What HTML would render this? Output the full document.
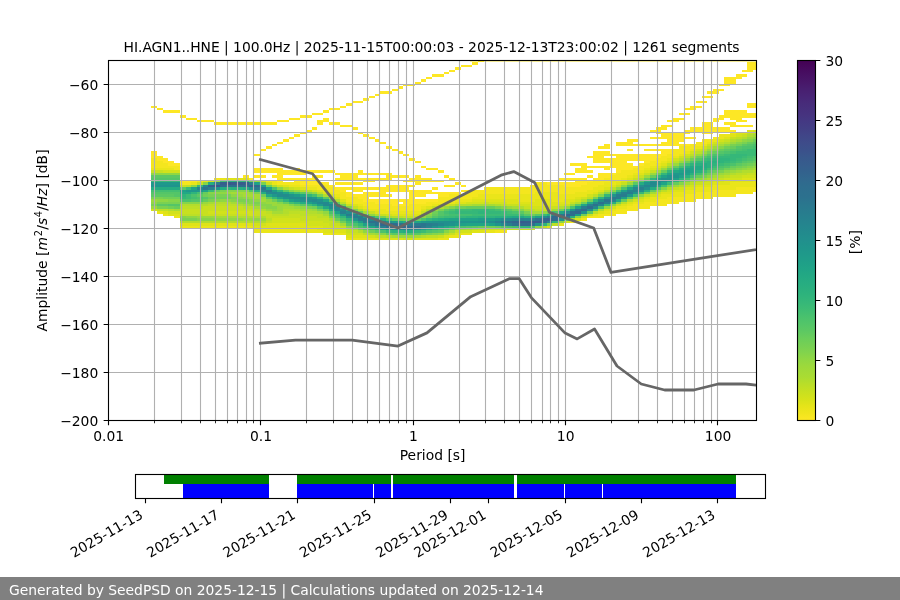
<!DOCTYPE html>
<html lang="en"><head><meta charset="utf-8"><title>SeedPSD PPSD HI.AGN1..HNE</title>
<style>html,body{margin:0;padding:0;background:#fff;overflow:hidden}svg{display:block}</style></head>
<body>
<svg width="900" height="600" viewBox="0 0 900 600">
<defs><clipPath id="ca"><rect x="108" y="60" width="648" height="360"/></clipPath>
<linearGradient id="cb" x1="0" y1="0" x2="0" y2="1"><stop offset="0" stop-color="#440154"/><stop offset="0.02" stop-color="#46085c"/><stop offset="0.04" stop-color="#471063"/><stop offset="0.06" stop-color="#481769"/><stop offset="0.08" stop-color="#481f70"/><stop offset="0.1" stop-color="#482576"/><stop offset="0.12" stop-color="#472c7a"/><stop offset="0.15" stop-color="#46337f"/><stop offset="0.17" stop-color="#443983"/><stop offset="0.19" stop-color="#423f85"/><stop offset="0.21" stop-color="#404688"/><stop offset="0.23" stop-color="#3e4c8a"/><stop offset="0.25" stop-color="#3b518b"/><stop offset="0.27" stop-color="#38588c"/><stop offset="0.29" stop-color="#365d8d"/><stop offset="0.31" stop-color="#33628d"/><stop offset="0.33" stop-color="#31688e"/><stop offset="0.35" stop-color="#2e6d8e"/><stop offset="0.38" stop-color="#2c718e"/><stop offset="0.4" stop-color="#2a778e"/><stop offset="0.42" stop-color="#287c8e"/><stop offset="0.44" stop-color="#26818e"/><stop offset="0.46" stop-color="#24868e"/><stop offset="0.48" stop-color="#228b8d"/><stop offset="0.5" stop-color="#21908d"/><stop offset="0.52" stop-color="#1f958b"/><stop offset="0.54" stop-color="#1f9a8a"/><stop offset="0.56" stop-color="#1f9f88"/><stop offset="0.58" stop-color="#20a486"/><stop offset="0.6" stop-color="#23a983"/><stop offset="0.62" stop-color="#27ad81"/><stop offset="0.65" stop-color="#2eb37c"/><stop offset="0.67" stop-color="#35b779"/><stop offset="0.69" stop-color="#3dbc74"/><stop offset="0.71" stop-color="#48c16e"/><stop offset="0.73" stop-color="#52c569"/><stop offset="0.75" stop-color="#5cc863"/><stop offset="0.77" stop-color="#69cd5b"/><stop offset="0.79" stop-color="#75d054"/><stop offset="0.81" stop-color="#81d34d"/><stop offset="0.83" stop-color="#90d743"/><stop offset="0.85" stop-color="#9dd93b"/><stop offset="0.88" stop-color="#aadc32"/><stop offset="0.9" stop-color="#bade28"/><stop offset="0.92" stop-color="#c8e020"/><stop offset="0.94" stop-color="#d5e21a"/><stop offset="0.96" stop-color="#e5e419"/><stop offset="0.98" stop-color="#f1e51d"/><stop offset="1" stop-color="#fde725"/></linearGradient></defs>
<rect width="900" height="600" fill="#fff"/>
<g clip-path="url(#ca)"><g transform="translate(151.1,60.0) scale(5.7335,2.4)" shape-rendering="crispEdges">
<path fill="#fde725" d="M0 19h1v1h-1zM0 38h1v3h-1zM1 20h1v1h-1zM1 40h1v2h-1zM2 21h1v1h-1zM2 41h1v2h-1zM3 21h1v1h-1zM3 42h1v2h-1zM4 21h1v1h-1zM4 43h1v1h-1zM5 23h1v1h-1zM5 50h1v1h-1zM6 24h1v1h-1zM6 50h1v1h-1zM7 24h1v1h-1zM7 50h1v1h-1zM8 25h1v1h-1zM9 25h1v1h-1zM10 25h1v1h-1zM11 26h1v1h-1zM12 26h1v1h-1zM13 26h1v1h-1zM14 26h1v1h-1zM15 26h1v1h-1zM16 26h1v1h-1zM16 48h1v1h-1zM17 26h1v1h-1zM17 49h1v1h-1zM18 26h1v1h-1zM18 39h1v1h-1zM18 45h1v2h-1zM18 48h1v1h-1zM19 26h1v1h-1zM19 37h1v1h-1zM19 45h1v2h-1zM19 48h1v1h-1zM20 26h1v1h-1zM20 36h1v1h-1zM20 45h1v2h-1zM21 26h1v1h-1zM21 35h1v1h-1zM21 45h1v2h-1zM21 48h1v1h-1zM22 25h1v1h-1zM22 34h1v1h-1zM22 45h1v6h-1zM23 25h1v1h-1zM23 33h1v1h-1zM23 46h1v2h-1zM23 49h1v1h-1zM24 24h1v1h-1zM24 32h1v1h-1zM24 46h1v2h-1zM24 49h1v1h-1zM25 24h1v1h-1zM25 31h1v1h-1zM25 45h1v3h-1zM25 49h1v2h-1zM26 23h1v1h-1zM26 30h1v1h-1zM26 46h1v2h-1zM26 49h1v3h-1zM27 23h1v1h-1zM27 29h1v1h-1zM27 46h1v1h-1zM27 49h1v3h-1zM28 22h1v1h-1zM28 28h1v1h-1zM28 46h1v1h-1zM28 48h1v4h-1zM29 22h1v1h-1zM29 25h1v2h-1zM29 46h1v1h-1zM29 48h1v1h-1zM29 51h1v1h-1zM30 21h1v1h-1zM30 24h1v2h-1zM30 46h1v1h-1zM30 51h1v1h-1zM31 20h1v1h-1zM31 26h1v1h-1zM31 46h1v1h-1zM31 52h1v1h-1zM32 20h1v1h-1zM32 26h1v1h-1zM32 47h1v1h-1zM32 49h1v1h-1zM32 51h1v1h-1zM32 53h1v1h-1zM33 19h1v1h-1zM33 27h1v1h-1zM33 47h1v3h-1zM33 51h1v1h-1zM33 53h1v2h-1zM34 18h1v1h-1zM34 27h1v1h-1zM34 47h1v3h-1zM34 51h1v1h-1zM34 53h1v1h-1zM34 55h1v2h-1zM35 17h1v1h-1zM35 28h1v1h-1zM35 47h1v3h-1zM35 51h1v1h-1zM35 53h1v2h-1zM35 56h1v1h-1zM36 17h1v1h-1zM36 30h1v1h-1zM36 46h1v2h-1zM36 49h1v1h-1zM36 51h1v1h-1zM36 53h1v2h-1zM36 56h1v2h-1zM37 16h1v1h-1zM37 31h1v1h-1zM37 47h1v1h-1zM37 49h1v2h-1zM37 53h1v1h-1zM37 55h1v4h-1zM38 15h1v1h-1zM38 32h1v1h-1zM38 47h1v1h-1zM38 49h1v2h-1zM38 53h1v1h-1zM38 55h1v2h-1zM38 58h1v1h-1zM39 14h1v1h-1zM39 33h1v1h-1zM39 47h1v1h-1zM39 49h1v1h-1zM39 53h1v1h-1zM39 55h1v2h-1zM39 58h1v2h-1zM40 13h1v1h-1zM40 34h1v1h-1zM40 47h1v1h-1zM40 49h1v1h-1zM40 53h1v4h-1zM40 58h1v2h-1zM41 13h1v1h-1zM41 36h1v1h-1zM41 47h1v3h-1zM41 52h1v3h-1zM41 56h1v1h-1zM41 58h1v2h-1zM42 12h1v1h-1zM42 37h1v1h-1zM42 48h1v1h-1zM42 52h1v3h-1zM42 58h1v3h-1zM43 11h1v1h-1zM43 38h1v1h-1zM43 48h1v1h-1zM43 52h1v3h-1zM43 58h1v1h-1zM43 60h1v1h-1zM44 10h1v1h-1zM44 39h1v1h-1zM44 48h1v1h-1zM44 50h1v1h-1zM44 52h1v3h-1zM44 58h1v3h-1zM45 10h1v1h-1zM45 41h1v1h-1zM45 49h1v2h-1zM45 52h1v1h-1zM45 54h1v6h-1zM46 9h1v1h-1zM46 42h1v1h-1zM46 48h1v4h-1zM46 54h1v3h-1zM46 58h1v2h-1zM47 8h1v1h-1zM47 44h1v1h-1zM47 49h1v2h-1zM47 54h1v3h-1zM47 58h1v2h-1zM48 7h1v1h-1zM48 45h1v1h-1zM48 49h1v2h-1zM48 54h1v2h-1zM48 58h1v1h-1zM49 6h1v1h-1zM49 45h1v1h-1zM49 50h1v1h-1zM49 53h1v1h-1zM49 55h1v1h-1zM49 58h1v1h-1zM50 6h1v1h-1zM50 46h1v1h-1zM50 50h1v1h-1zM50 55h1v2h-1zM51 5h1v1h-1zM51 48h1v1h-1zM51 52h1v1h-1zM51 55h1v2h-1zM52 4h1v1h-1zM52 49h1v1h-1zM52 52h1v1h-1zM52 55h1v1h-1zM53 3h1v1h-1zM53 51h1v1h-1zM53 55h1v1h-1zM54 2h1v1h-1zM54 52h1v1h-1zM54 54h1v1h-1zM55 2h1v1h-1zM55 54h1v1h-1zM56 1h1v1h-1zM57 0h1v1h-1zM69 51h1v1h-1zM70 51h1v1h-1zM71 49h1v1h-1zM71 51h1v1h-1zM72 47h1v1h-1zM72 49h1v1h-1zM72 51h1v2h-1zM73 43h1v1h-1zM73 47h1v1h-1zM73 49h1v1h-1zM73 51h1v2h-1zM74 43h1v1h-1zM74 45h1v2h-1zM74 49h1v4h-1zM75 43h1v4h-1zM75 49h1v3h-1zM76 40h1v1h-1zM76 44h1v1h-1zM76 46h1v1h-1zM76 48h1v1h-1zM76 50h1v1h-1zM77 38h1v5h-1zM77 44h1v1h-1zM77 49h1v1h-1zM78 36h1v1h-1zM78 38h1v5h-1zM78 44h1v1h-1zM78 47h1v3h-1zM79 35h1v2h-1zM79 38h1v2h-1zM79 41h1v2h-1zM79 44h1v2h-1zM79 47h1v2h-1zM80 39h1v1h-1zM80 41h1v4h-1zM80 47h1v1h-1zM81 34h1v2h-1zM81 39h1v8h-1zM82 34h1v2h-1zM82 39h1v7h-1zM83 33h1v3h-1zM83 37h1v1h-1zM83 39h1v3h-1zM83 43h1v3h-1zM84 33h1v1h-1zM84 35h1v1h-1zM84 39h1v3h-1zM84 44h1v1h-1zM85 35h1v1h-1zM85 39h1v3h-1zM85 43h1v1h-1zM86 35h1v1h-1zM86 37h1v1h-1zM86 39h1v4h-1zM87 29h1v1h-1zM87 32h1v1h-1zM87 35h1v1h-1zM87 37h1v1h-1zM87 39h1v3h-1zM88 28h1v3h-1zM88 32h1v1h-1zM88 35h1v1h-1zM88 37h1v1h-1zM88 39h1v2h-1zM89 27h1v2h-1zM89 30h1v3h-1zM89 34h1v2h-1zM89 37h1v3h-1zM90 25h1v1h-1zM90 27h1v1h-1zM90 30h1v6h-1zM90 37h1v2h-1zM91 24h1v2h-1zM91 30h1v6h-1zM92 22h1v1h-1zM92 24h1v1h-1zM92 30h1v4h-1zM92 35h1v1h-1zM93 20h1v1h-1zM93 22h1v1h-1zM93 29h1v2h-1zM93 32h1v1h-1zM93 35h1v1h-1zM94 19h1v2h-1zM94 28h1v2h-1zM94 32h1v1h-1zM95 17h1v1h-1zM95 19h1v1h-1zM95 28h1v2h-1zM96 15h1v1h-1zM96 17h1v1h-1zM96 26h1v5h-1zM97 13h1v1h-1zM97 15h1v1h-1zM97 26h1v5h-1zM98 12h1v2h-1zM98 24h1v2h-1zM98 28h1v2h-1zM99 10h1v1h-1zM99 12h1v1h-1zM99 23h1v2h-1zM99 28h1v2h-1zM100 7h1v4h-1zM100 21h1v3h-1zM100 26h1v1h-1zM100 28h1v2h-1zM101 7h1v3h-1zM101 21h1v4h-1zM101 26h1v2h-1zM101 29h1v1h-1zM102 6h1v2h-1zM102 21h1v5h-1zM102 27h1v1h-1zM103 4h1v1h-1zM103 6h1v1h-1zM103 21h1v3h-1zM103 25h1v1h-1zM103 27h1v1h-1zM104 1h1v4h-1zM104 18h1v2h-1zM104 22h1v2h-1zM104 27h1v1h-1zM105 1h1v3h-1zM105 18h1v2h-1zM105 22h1v2h-1z"/>
<path fill="#f4e61e" d="M0 41h1v4h-1zM1 42h1v3h-1zM2 43h1v2h-1zM3 44h1v1h-1zM4 44h1v2h-1zM5 51h1v1h-1zM6 51h1v1h-1zM8 50h1v1h-1zM11 49h1v1h-1zM20 50h1v1h-1zM21 50h1v1h-1zM22 51h1v1h-1zM23 51h1v1h-1zM24 51h1v1h-1zM25 51h1v1h-1zM26 52h1v1h-1zM27 52h1v1h-1zM28 52h1v1h-1zM29 52h1v2h-1zM30 52h1v2h-1zM31 53h1v2h-1zM32 54h1v2h-1zM33 55h1v3h-1zM34 57h1v2h-1zM35 57h1v3h-1zM36 58h1v2h-1zM37 59h1v2h-1zM38 59h1v3h-1zM39 60h1v2h-1zM40 60h1v2h-1zM41 60h1v3h-1zM42 61h1v2h-1zM43 61h1v2h-1zM44 61h1v2h-1zM45 60h1v3h-1zM46 60h1v3h-1zM47 60h1v1h-1zM48 59h1v2h-1zM49 59h1v1h-1zM50 57h1v3h-1zM51 57h1v2h-1zM52 56h1v3h-1zM53 56h1v2h-1zM54 56h1v2h-1zM55 55h1v3h-1zM56 54h1v3h-1zM57 54h1v2h-1zM58 53h1v3h-1zM59 53h1v3h-1zM60 53h1v3h-1zM60 71h1v1h-1zM61 53h1v3h-1zM61 71h1v1h-1zM62 53h1v3h-1zM63 53h1v3h-1zM64 53h1v3h-1zM65 53h1v3h-1zM66 52h1v4h-1zM67 51h1v4h-1zM68 51h1v4h-1zM69 52h1v3h-1zM70 52h1v3h-1zM71 52h1v4h-1zM72 53h1v3h-1zM73 53h1v3h-1zM73 67h1v1h-1zM74 53h1v2h-1zM75 52h1v3h-1zM75 66h1v1h-1zM76 51h1v3h-1zM76 65h1v1h-1zM77 50h1v3h-1zM77 65h1v1h-1zM78 50h1v2h-1zM78 64h1v2h-1zM79 49h1v2h-1zM79 64h1v1h-1zM80 48h1v2h-1zM80 63h1v2h-1zM81 47h1v3h-1zM81 62h1v2h-1zM82 46h1v3h-1zM82 62h1v2h-1zM83 46h1v2h-1zM83 61h1v2h-1zM84 45h1v2h-1zM84 60h1v3h-1zM85 44h1v2h-1zM85 60h1v2h-1zM86 43h1v2h-1zM86 59h1v3h-1zM87 42h1v2h-1zM87 59h1v2h-1zM88 41h1v2h-1zM88 58h1v3h-1zM89 40h1v2h-1zM89 58h1v3h-1zM90 39h1v2h-1zM90 57h1v3h-1zM91 37h1v3h-1zM91 57h1v3h-1zM92 36h1v3h-1zM92 57h1v2h-1zM93 36h1v2h-1zM93 56h1v3h-1zM94 35h1v2h-1zM94 56h1v3h-1zM95 34h1v2h-1zM95 55h1v3h-1zM96 33h1v2h-1zM96 55h1v3h-1zM97 33h1v1h-1zM97 55h1v3h-1zM98 32h1v1h-1zM98 54h1v3h-1zM99 54h1v3h-1zM100 54h1v3h-1zM101 54h1v3h-1zM102 53h1v3h-1zM103 53h1v3h-1zM104 53h1v3h-1zM105 53h1v2h-1z"/>
<path fill="#eae51a" d="M0 45h1v1h-1zM1 45h1v1h-1zM1 63h1v1h-1zM2 45h1v1h-1zM2 64h1v1h-1zM3 45h1v1h-1zM4 65h1v1h-1zM5 69h1v1h-1zM6 69h1v1h-1zM7 51h1v1h-1zM7 69h1v1h-1zM8 69h1v1h-1zM9 50h1v1h-1zM9 69h1v1h-1zM10 69h1v1h-1zM11 69h1v1h-1zM12 49h1v1h-1zM12 69h1v1h-1zM13 69h1v1h-1zM14 69h1v1h-1zM15 69h1v1h-1zM16 69h1v1h-1zM17 69h1v1h-1zM18 70h1v2h-1zM19 70h1v2h-1zM20 70h1v2h-1zM21 51h1v1h-1zM21 70h1v2h-1zM22 70h1v2h-1zM23 70h1v2h-1zM24 52h1v1h-1zM24 70h1v2h-1zM25 52h1v1h-1zM25 70h1v2h-1zM26 70h1v2h-1zM27 53h1v1h-1zM27 70h1v2h-1zM28 53h1v1h-1zM28 70h1v2h-1zM29 71h1v1h-1zM30 54h1v1h-1zM30 72h1v1h-1zM31 55h1v1h-1zM31 72h1v1h-1zM32 56h1v1h-1zM32 72h1v1h-1zM33 72h1v1h-1zM34 59h1v1h-1zM34 74h1v1h-1zM35 74h1v1h-1zM36 60h1v1h-1zM36 74h1v1h-1zM37 61h1v1h-1zM37 74h1v1h-1zM38 62h1v1h-1zM38 74h1v1h-1zM39 62h1v1h-1zM39 74h1v1h-1zM40 62h1v2h-1zM41 63h1v1h-1zM42 63h1v1h-1zM43 63h1v1h-1zM44 63h1v1h-1zM45 63h1v1h-1zM46 63h1v1h-1zM47 61h1v1h-1zM49 60h1v1h-1zM50 74h1v1h-1zM51 59h1v1h-1zM51 74h1v1h-1zM52 59h1v1h-1zM52 73h1v1h-1zM53 58h1v1h-1zM53 73h1v1h-1zM54 58h1v1h-1zM54 72h1v1h-1zM55 58h1v1h-1zM55 72h1v1h-1zM56 57h1v1h-1zM57 56h1v2h-1zM58 56h1v2h-1zM58 71h1v1h-1zM59 56h1v2h-1zM59 71h1v1h-1zM60 56h1v2h-1zM61 56h1v2h-1zM62 56h1v2h-1zM63 56h1v2h-1zM64 56h1v3h-1zM65 56h1v3h-1zM66 56h1v3h-1zM67 55h1v3h-1zM68 55h1v3h-1zM69 55h1v3h-1zM70 55h1v4h-1zM71 56h1v3h-1zM71 68h1v1h-1zM72 56h1v2h-1zM73 56h1v2h-1zM74 55h1v2h-1zM75 55h1v2h-1zM76 54h1v2h-1zM77 53h1v2h-1zM77 64h1v1h-1zM78 52h1v2h-1zM79 51h1v2h-1zM79 63h1v1h-1zM80 50h1v2h-1zM80 62h1v1h-1zM81 50h1v1h-1zM81 61h1v1h-1zM82 49h1v1h-1zM82 61h1v1h-1zM83 48h1v1h-1zM83 60h1v1h-1zM84 47h1v1h-1zM84 59h1v1h-1zM85 46h1v1h-1zM85 59h1v1h-1zM86 45h1v1h-1zM86 58h1v1h-1zM87 44h1v1h-1zM87 57h1v2h-1zM88 43h1v1h-1zM88 57h1v1h-1zM89 42h1v1h-1zM89 56h1v2h-1zM90 41h1v1h-1zM90 56h1v1h-1zM91 40h1v1h-1zM91 55h1v2h-1zM92 39h1v1h-1zM92 55h1v2h-1zM93 38h1v1h-1zM93 54h1v2h-1zM94 37h1v1h-1zM94 54h1v2h-1zM95 36h1v1h-1zM95 53h1v2h-1zM96 35h1v1h-1zM96 53h1v2h-1zM97 34h1v1h-1zM97 53h1v2h-1zM98 33h1v1h-1zM98 52h1v2h-1zM99 31h1v2h-1zM99 52h1v2h-1zM100 31h1v1h-1zM100 52h1v2h-1zM101 30h1v1h-1zM101 51h1v3h-1zM102 51h1v2h-1zM103 51h1v2h-1zM104 51h1v2h-1zM105 50h1v3h-1z"/>
<path fill="#dfe318" d="M2 63h1v1h-1zM3 64h1v1h-1zM4 64h1v1h-1zM5 68h1v1h-1zM6 68h1v1h-1zM7 68h1v1h-1zM8 68h1v1h-1zM9 68h1v1h-1zM10 68h1v1h-1zM11 68h1v1h-1zM12 68h1v1h-1zM13 49h1v1h-1zM13 68h1v1h-1zM14 49h1v1h-1zM14 68h1v1h-1zM15 49h1v1h-1zM15 68h1v1h-1zM16 49h1v1h-1zM16 68h1v1h-1zM17 68h1v1h-1zM18 69h1v1h-1zM19 50h1v1h-1zM19 69h1v1h-1zM20 68h1v2h-1zM21 68h1v2h-1zM22 68h1v2h-1zM23 52h1v1h-1zM23 68h1v2h-1zM24 68h1v2h-1zM25 68h1v2h-1zM26 53h1v1h-1zM26 68h1v2h-1zM27 69h1v1h-1zM28 69h1v1h-1zM29 54h1v1h-1zM29 69h1v2h-1zM30 55h1v1h-1zM30 70h1v2h-1zM31 70h1v2h-1zM32 57h1v1h-1zM32 71h1v1h-1zM33 58h1v1h-1zM33 71h1v1h-1zM34 73h1v1h-1zM35 60h1v1h-1zM35 73h1v1h-1zM36 61h1v1h-1zM36 73h1v1h-1zM37 73h1v1h-1zM39 63h1v1h-1zM40 74h1v1h-1zM41 74h1v1h-1zM42 64h1v1h-1zM42 74h1v1h-1zM43 64h1v1h-1zM43 74h1v1h-1zM44 64h1v1h-1zM45 64h1v1h-1zM46 64h1v1h-1zM46 74h1v1h-1zM47 62h1v1h-1zM47 74h1v1h-1zM48 61h1v1h-1zM48 74h1v1h-1zM49 74h1v1h-1zM50 60h1v1h-1zM51 73h1v1h-1zM53 59h1v1h-1zM53 72h1v1h-1zM54 59h1v1h-1zM56 58h1v1h-1zM56 71h1v1h-1zM57 58h1v1h-1zM57 71h1v1h-1zM58 58h1v1h-1zM59 58h1v1h-1zM60 58h1v1h-1zM61 58h1v1h-1zM62 58h1v2h-1zM63 58h1v2h-1zM64 59h1v1h-1zM65 59h1v1h-1zM66 59h1v2h-1zM67 58h1v3h-1zM68 58h1v3h-1zM69 58h1v3h-1zM69 69h1v1h-1zM70 59h1v2h-1zM71 59h1v1h-1zM72 58h1v2h-1zM73 58h1v1h-1zM74 57h1v1h-1zM74 66h1v1h-1zM77 55h1v1h-1zM78 54h1v1h-1zM78 63h1v1h-1zM79 53h1v1h-1zM79 62h1v1h-1zM80 52h1v1h-1zM81 51h1v1h-1zM82 50h1v1h-1zM82 60h1v1h-1zM83 49h1v1h-1zM83 59h1v1h-1zM84 48h1v1h-1zM85 47h1v1h-1zM85 58h1v1h-1zM86 46h1v1h-1zM86 57h1v1h-1zM87 45h1v1h-1zM88 44h1v1h-1zM88 56h1v1h-1zM89 43h1v1h-1zM89 55h1v1h-1zM90 42h1v1h-1zM90 55h1v1h-1zM91 54h1v1h-1zM92 54h1v1h-1zM93 53h1v1h-1zM94 53h1v1h-1zM95 52h1v1h-1zM96 52h1v1h-1zM97 52h1v1h-1zM98 51h1v1h-1zM99 51h1v1h-1zM100 32h1v1h-1zM100 50h1v2h-1zM101 31h1v1h-1zM101 50h1v1h-1zM102 30h1v1h-1zM102 50h1v1h-1zM103 30h1v1h-1zM103 49h1v2h-1zM104 29h1v1h-1zM104 49h1v2h-1zM105 49h1v1h-1z"/>
<path fill="#d2e21b" d="M0 62h1v1h-1zM2 46h1v1h-1zM3 46h1v1h-1zM3 63h1v1h-1zM4 46h1v1h-1zM4 63h1v1h-1zM10 50h1v1h-1zM10 63h1v1h-1zM11 63h1v1h-1zM12 63h1v1h-1zM13 63h1v1h-1zM14 63h1v1h-1zM15 63h1v1h-1zM16 63h1v1h-1zM17 63h1v2h-1zM18 68h1v1h-1zM19 68h1v1h-1zM21 66h1v2h-1zM22 52h1v1h-1zM22 66h1v2h-1zM23 66h1v2h-1zM24 66h1v2h-1zM25 53h1v1h-1zM25 66h1v2h-1zM26 67h1v1h-1zM27 67h1v2h-1zM28 54h1v1h-1zM28 67h1v2h-1zM29 67h1v2h-1zM30 68h1v2h-1zM31 56h1v1h-1zM31 69h1v1h-1zM32 69h1v2h-1zM33 70h1v1h-1zM34 72h1v1h-1zM35 72h1v1h-1zM36 72h1v1h-1zM37 62h1v1h-1zM38 73h1v1h-1zM41 64h1v1h-1zM44 74h1v1h-1zM45 74h1v1h-1zM51 60h1v1h-1zM54 71h1v1h-1zM55 59h1v1h-1zM55 71h1v1h-1zM56 59h1v1h-1zM57 59h1v1h-1zM59 59h1v1h-1zM60 59h1v1h-1zM61 59h1v1h-1zM64 60h1v1h-1zM65 60h1v1h-1zM66 61h1v1h-1zM66 70h1v1h-1zM67 61h1v1h-1zM68 61h1v1h-1zM69 61h1v1h-1zM71 60h1v1h-1zM72 67h1v1h-1zM74 58h1v1h-1zM75 57h1v1h-1zM75 65h1v1h-1zM76 56h1v1h-1zM80 61h1v1h-1zM84 58h1v1h-1zM87 56h1v1h-1zM90 54h1v1h-1zM91 41h1v1h-1zM92 40h1v1h-1zM92 53h1v1h-1zM93 39h1v1h-1zM94 38h1v1h-1zM94 52h1v1h-1zM95 37h1v1h-1zM96 36h1v1h-1zM96 51h1v1h-1zM97 35h1v1h-1zM97 51h1v1h-1zM98 34h1v1h-1zM98 50h1v1h-1zM99 33h1v1h-1zM99 50h1v1h-1zM100 49h1v1h-1zM101 49h1v1h-1zM102 31h1v1h-1zM102 49h1v1h-1zM103 48h1v1h-1zM104 48h1v1h-1zM105 29h1v1h-1zM105 48h1v1h-1z"/>
<path fill="#c8e020" d="M0 46h1v1h-1zM1 46h1v1h-1zM5 52h1v1h-1zM5 62h1v2h-1zM6 62h1v2h-1zM7 62h1v2h-1zM8 51h1v1h-1zM8 62h1v2h-1zM9 61h1v4h-1zM10 61h1v2h-1zM10 64h1v1h-1zM11 61h1v2h-1zM11 64h1v1h-1zM12 61h1v2h-1zM12 64h1v1h-1zM13 61h1v2h-1zM13 64h1v1h-1zM14 61h1v2h-1zM14 64h1v1h-1zM15 61h1v2h-1zM15 64h1v1h-1zM16 62h1v1h-1zM16 64h1v1h-1zM17 62h1v1h-1zM18 63h1v2h-1zM19 63h1v2h-1zM20 51h1v1h-1zM20 64h1v2h-1zM20 67h1v1h-1zM21 65h1v1h-1zM22 65h1v1h-1zM23 65h1v1h-1zM24 53h1v1h-1zM24 64h1v2h-1zM25 64h1v2h-1zM26 65h1v2h-1zM27 65h1v2h-1zM28 65h1v2h-1zM29 66h1v1h-1zM30 66h1v2h-1zM31 67h1v2h-1zM32 68h1v1h-1zM33 69h1v1h-1zM34 60h1v1h-1zM34 71h1v1h-1zM35 61h1v1h-1zM35 71h1v1h-1zM38 63h1v1h-1zM39 73h1v1h-1zM40 64h1v1h-1zM44 65h1v1h-1zM45 65h1v1h-1zM47 63h1v1h-1zM49 61h1v1h-1zM50 73h1v1h-1zM52 60h1v1h-1zM52 72h1v1h-1zM53 71h1v1h-1zM58 59h1v1h-1zM58 70h1v1h-1zM59 70h1v1h-1zM60 70h1v1h-1zM61 70h1v1h-1zM62 60h1v1h-1zM62 70h1v1h-1zM63 60h1v1h-1zM63 70h1v1h-1zM64 70h1v1h-1zM65 61h1v1h-1zM65 70h1v1h-1zM67 62h1v1h-1zM68 62h1v1h-1zM70 61h1v1h-1zM72 60h1v1h-1zM73 59h1v1h-1zM76 64h1v1h-1zM81 52h1v1h-1zM81 60h1v1h-1zM82 51h1v1h-1zM83 50h1v1h-1zM84 49h1v1h-1zM85 48h1v1h-1zM85 57h1v1h-1zM86 47h1v1h-1zM87 46h1v1h-1zM88 45h1v1h-1zM88 55h1v1h-1zM89 44h1v1h-1zM91 53h1v1h-1zM93 52h1v1h-1zM95 51h1v1h-1zM97 50h1v1h-1zM99 49h1v1h-1zM100 33h1v1h-1zM101 32h1v1h-1zM101 48h1v1h-1zM102 48h1v1h-1zM103 31h1v1h-1zM104 30h1v1h-1zM104 47h1v1h-1zM105 47h1v1h-1z"/>
<path fill="#bddf26" d="M1 62h1v1h-1zM2 62h1v1h-1zM5 61h1v1h-1zM5 64h1v1h-1zM6 52h1v1h-1zM6 61h1v1h-1zM6 64h1v1h-1zM7 61h1v1h-1zM7 64h1v1h-1zM8 61h1v1h-1zM8 64h1v1h-1zM10 60h1v1h-1zM11 60h1v1h-1zM12 60h1v1h-1zM13 60h1v1h-1zM14 60h1v1h-1zM16 61h1v1h-1zM17 61h1v1h-1zM18 62h1v1h-1zM20 63h1v1h-1zM20 66h1v1h-1zM21 64h1v1h-1zM22 64h1v1h-1zM23 64h1v1h-1zM24 63h1v1h-1zM25 63h1v1h-1zM26 63h1v2h-1zM27 54h1v1h-1zM27 64h1v1h-1zM28 64h1v1h-1zM29 55h1v1h-1zM29 64h1v2h-1zM30 65h1v1h-1zM33 59h1v1h-1zM34 70h1v1h-1zM37 72h1v1h-1zM40 73h1v1h-1zM43 65h1v1h-1zM46 65h1v1h-1zM48 62h1v1h-1zM48 73h1v1h-1zM49 73h1v1h-1zM57 70h1v1h-1zM61 60h1v1h-1zM66 62h1v1h-1zM68 69h1v1h-1zM69 62h1v1h-1zM70 68h1v1h-1zM76 57h1v1h-1zM77 56h1v1h-1zM77 63h1v1h-1zM78 55h1v1h-1zM79 54h1v1h-1zM80 53h1v1h-1zM82 59h1v1h-1zM86 56h1v1h-1zM89 54h1v1h-1zM90 43h1v1h-1zM91 42h1v1h-1zM92 41h1v1h-1zM93 40h1v1h-1zM94 39h1v1h-1zM94 51h1v1h-1zM95 38h1v1h-1zM96 37h1v1h-1zM96 50h1v1h-1zM97 36h1v1h-1zM98 35h1v1h-1zM98 49h1v1h-1zM99 34h1v1h-1zM100 48h1v1h-1zM102 32h1v1h-1zM102 47h1v1h-1zM103 47h1v1h-1zM105 30h1v1h-1zM105 46h1v1h-1z"/>
<path fill="#b2dd2d" d="M3 62h1v1h-1zM5 60h1v1h-1zM5 67h1v1h-1zM6 60h1v1h-1zM6 67h1v1h-1zM7 60h1v1h-1zM7 67h1v1h-1zM8 60h1v1h-1zM8 67h1v1h-1zM9 60h1v1h-1zM9 67h1v1h-1zM10 67h1v1h-1zM11 59h1v1h-1zM11 67h1v1h-1zM12 59h1v1h-1zM12 67h1v1h-1zM13 59h1v1h-1zM13 67h1v1h-1zM14 67h1v1h-1zM15 60h1v1h-1zM15 65h1v1h-1zM15 67h1v1h-1zM16 65h1v1h-1zM16 67h1v1h-1zM17 65h1v1h-1zM17 67h1v1h-1zM18 65h1v1h-1zM18 67h1v1h-1zM19 62h1v1h-1zM19 65h1v1h-1zM19 67h1v1h-1zM21 52h1v1h-1zM23 53h1v1h-1zM23 62h1v2h-1zM24 62h1v1h-1zM25 62h1v1h-1zM26 54h1v1h-1zM27 63h1v1h-1zM28 63h1v1h-1zM30 56h1v1h-1zM31 66h1v1h-1zM32 58h1v1h-1zM36 62h1v1h-1zM36 71h1v1h-1zM39 64h1v1h-1zM41 73h1v1h-1zM42 65h1v1h-1zM47 64h1v1h-1zM47 73h1v1h-1zM50 61h1v1h-1zM51 72h1v1h-1zM53 60h1v1h-1zM54 60h1v1h-1zM55 60h1v1h-1zM56 70h1v1h-1zM60 60h1v1h-1zM64 61h1v1h-1zM71 61h1v1h-1zM73 66h1v1h-1zM74 59h1v1h-1zM75 58h1v1h-1zM78 62h1v1h-1zM83 58h1v1h-1zM90 53h1v1h-1zM92 52h1v1h-1zM95 50h1v1h-1zM97 49h1v1h-1zM99 48h1v1h-1zM100 34h1v1h-1zM101 33h1v1h-1zM101 47h1v1h-1zM103 32h1v1h-1zM103 46h1v1h-1zM104 31h1v1h-1zM104 46h1v1h-1z"/>
<path fill="#a5db36" d="M4 62h1v1h-1zM10 59h1v1h-1zM11 65h1v1h-1zM12 65h1v1h-1zM13 65h1v1h-1zM14 55h1v1h-1zM14 59h1v1h-1zM14 65h1v1h-1zM15 55h1v1h-1zM16 55h1v2h-1zM16 60h1v1h-1zM17 56h1v1h-1zM18 56h1v2h-1zM18 61h1v1h-1zM19 58h1v1h-1zM21 63h1v1h-1zM22 63h1v1h-1zM23 61h1v1h-1zM24 61h1v1h-1zM26 62h1v1h-1zM27 62h1v1h-1zM29 63h1v1h-1zM30 64h1v1h-1zM31 57h1v1h-1zM32 67h1v1h-1zM33 68h1v1h-1zM35 70h1v1h-1zM37 63h1v1h-1zM38 72h1v1h-1zM41 65h1v1h-1zM42 73h1v1h-1zM46 73h1v1h-1zM52 71h1v1h-1zM55 70h1v1h-1zM56 60h1v1h-1zM57 60h1v1h-1zM58 60h1v1h-1zM59 60h1v1h-1zM63 61h1v1h-1zM65 62h1v1h-1zM66 63h1v1h-1zM67 63h1v1h-1zM85 49h1v1h-1zM87 55h1v1h-1zM93 51h1v1h-1zM96 49h1v1h-1zM98 48h1v1h-1zM99 35h1v1h-1zM100 47h1v1h-1zM102 33h1v1h-1zM102 46h1v1h-1zM105 31h1v1h-1zM105 45h1v1h-1z"/>
<path fill="#9bd93c" d="M0 58h1v1h-1zM0 61h1v1h-1zM8 65h1v1h-1zM9 59h1v1h-1zM9 65h1v1h-1zM10 65h1v1h-1zM11 50h1v1h-1zM13 55h1v1h-1zM15 56h1v1h-1zM16 66h1v1h-1zM17 55h1v1h-1zM17 57h1v1h-1zM17 60h1v1h-1zM17 66h1v1h-1zM18 50h1v1h-1zM19 57h1v1h-1zM19 66h1v1h-1zM20 59h1v1h-1zM20 62h1v1h-1zM21 59h1v2h-1zM22 60h1v3h-1zM23 60h1v1h-1zM25 54h1v1h-1zM25 61h1v1h-1zM28 62h1v1h-1zM39 72h1v1h-1zM43 73h1v1h-1zM44 73h1v1h-1zM45 73h1v1h-1zM48 63h1v1h-1zM49 62h1v1h-1zM51 61h1v1h-1zM54 70h1v1h-1zM62 61h1v1h-1zM70 62h1v1h-1zM73 60h1v1h-1zM79 61h1v1h-1zM83 51h1v1h-1zM84 50h1v1h-1zM84 57h1v1h-1zM86 48h1v1h-1zM87 47h1v1h-1zM88 46h1v1h-1zM88 54h1v1h-1zM89 45h1v1h-1zM90 44h1v1h-1zM91 43h1v1h-1zM91 52h1v1h-1zM92 42h1v1h-1zM93 41h1v1h-1zM94 40h1v1h-1zM94 50h1v1h-1zM95 39h1v1h-1zM96 38h1v1h-1zM97 37h1v1h-1zM98 36h1v1h-1zM99 47h1v1h-1zM101 34h1v1h-1zM101 46h1v1h-1zM104 32h1v1h-1zM104 45h1v1h-1z"/>
<path fill="#90d743" d="M0 47h1v1h-1zM0 59h1v1h-1zM1 47h1v1h-1zM1 58h1v1h-1zM2 47h1v1h-1zM2 58h1v1h-1zM3 47h1v1h-1zM4 47h1v1h-1zM6 65h1v1h-1zM7 52h1v1h-1zM7 65h1v1h-1zM11 55h1v1h-1zM11 66h1v1h-1zM12 55h1v1h-1zM12 58h1v1h-1zM12 66h1v1h-1zM13 58h1v1h-1zM13 66h1v1h-1zM14 56h1v1h-1zM14 66h1v1h-1zM15 59h1v1h-1zM15 66h1v1h-1zM16 57h1v1h-1zM18 58h1v1h-1zM18 66h1v1h-1zM19 59h1v1h-1zM19 61h1v1h-1zM20 58h1v1h-1zM21 62h1v1h-1zM26 61h1v1h-1zM28 55h1v1h-1zM30 63h1v1h-1zM34 69h1v1h-1zM37 71h1v1h-1zM38 64h1v1h-1zM47 65h1v1h-1zM50 72h1v1h-1zM53 70h1v1h-1zM67 69h1v1h-1zM68 63h1v1h-1zM72 61h1v1h-1zM74 65h1v1h-1zM80 60h1v1h-1zM81 53h1v1h-1zM82 52h1v1h-1zM85 56h1v1h-1zM95 49h1v1h-1zM97 48h1v1h-1zM100 35h1v1h-1zM100 46h1v1h-1zM103 33h1v1h-1zM103 45h1v1h-1zM105 32h1v1h-1zM105 44h1v1h-1z"/>
<path fill="#86d549" d="M3 58h1v1h-1zM4 58h1v1h-1zM5 59h1v1h-1zM5 65h1v1h-1zM6 59h1v1h-1zM7 59h1v1h-1zM8 59h1v1h-1zM8 66h1v1h-1zM9 51h1v1h-1zM9 66h1v1h-1zM10 55h1v1h-1zM10 66h1v1h-1zM11 58h1v1h-1zM13 54h1v1h-1zM14 54h1v1h-1zM14 58h1v1h-1zM15 54h1v1h-1zM15 57h1v1h-1zM16 54h1v1h-1zM16 59h1v1h-1zM17 58h1v2h-1zM18 60h1v1h-1zM19 60h1v1h-1zM20 60h1v2h-1zM21 61h1v1h-1zM22 53h1v1h-1zM22 59h1v1h-1zM24 54h1v1h-1zM24 60h1v1h-1zM31 65h1v1h-1zM34 61h1v1h-1zM40 72h1v1h-1zM48 64h1v1h-1zM49 72h1v1h-1zM51 71h1v1h-1zM52 61h1v1h-1zM61 61h1v1h-1zM64 62h1v1h-1zM71 67h1v1h-1zM78 56h1v1h-1zM79 55h1v1h-1zM80 54h1v1h-1zM89 53h1v1h-1zM92 51h1v1h-1zM98 37h1v1h-1zM98 47h1v1h-1zM99 36h1v1h-1zM102 34h1v1h-1zM102 45h1v1h-1zM104 33h1v1h-1zM104 44h1v1h-1z"/>
<path fill="#7ad151" d="M0 57h1v1h-1zM0 60h1v1h-1zM1 57h1v1h-1zM1 59h1v1h-1zM1 61h1v1h-1zM2 59h1v1h-1zM2 61h1v1h-1zM3 59h1v1h-1zM4 59h1v1h-1zM5 66h1v1h-1zM6 66h1v1h-1zM7 66h1v1h-1zM10 56h1v1h-1zM10 58h1v1h-1zM11 56h1v1h-1zM12 54h1v1h-1zM12 56h1v1h-1zM13 56h1v1h-1zM14 57h1v1h-1zM15 58h1v1h-1zM16 58h1v1h-1zM17 50h1v1h-1zM18 55h1v1h-1zM18 59h1v1h-1zM19 51h1v1h-1zM27 55h1v1h-1zM27 61h1v1h-1zM29 56h1v1h-1zM29 62h1v1h-1zM33 60h1v1h-1zM35 62h1v1h-1zM36 70h1v1h-1zM40 65h1v1h-1zM44 66h1v1h-1zM45 66h1v1h-1zM48 72h1v1h-1zM50 62h1v1h-1zM60 61h1v1h-1zM65 63h1v1h-1zM69 63h1v1h-1zM77 57h1v1h-1zM81 59h1v1h-1zM90 52h1v1h-1zM93 50h1v1h-1zM96 39h1v1h-1zM96 48h1v1h-1zM97 38h1v1h-1zM99 46h1v1h-1zM101 35h1v1h-1zM101 45h1v1h-1zM103 34h1v1h-1zM103 44h1v1h-1zM105 43h1v1h-1z"/>
<path fill="#70cf57" d="M2 57h1v1h-1zM3 57h1v1h-1zM3 61h1v1h-1zM4 57h1v1h-1zM9 56h1v1h-1zM11 57h1v1h-1zM12 57h1v1h-1zM13 57h1v1h-1zM19 56h1v1h-1zM20 52h1v1h-1zM21 58h1v1h-1zM25 60h1v1h-1zM28 61h1v1h-1zM32 66h1v1h-1zM33 67h1v1h-1zM38 71h1v1h-1zM43 66h1v1h-1zM47 72h1v1h-1zM48 65h1v1h-1zM49 63h1v1h-1zM52 70h1v1h-1zM53 61h1v1h-1zM54 61h1v1h-1zM58 69h1v1h-1zM59 69h1v1h-1zM63 62h1v1h-1zM66 64h1v1h-1zM69 68h1v1h-1zM71 62h1v1h-1zM75 59h1v1h-1zM75 64h1v1h-1zM76 58h1v1h-1zM86 55h1v1h-1zM93 42h1v1h-1zM94 41h1v1h-1zM94 49h1v1h-1zM95 40h1v1h-1zM97 47h1v1h-1zM100 36h1v1h-1zM100 45h1v1h-1zM102 35h1v1h-1zM102 44h1v1h-1zM104 43h1v1h-1zM105 33h1v1h-1z"/>
<path fill="#67cc5c" d="M4 61h1v1h-1zM9 55h1v1h-1zM9 58h1v1h-1zM10 57h1v1h-1zM11 54h1v1h-1zM23 59h1v1h-1zM31 64h1v1h-1zM32 59h1v1h-1zM35 69h1v1h-1zM36 63h1v1h-1zM41 72h1v1h-1zM46 66h1v1h-1zM49 64h1v1h-1zM55 61h1v1h-1zM56 61h1v1h-1zM57 61h1v1h-1zM57 69h1v1h-1zM58 61h1v1h-1zM59 61h1v1h-1zM60 69h1v1h-1zM82 58h1v1h-1zM86 49h1v1h-1zM87 48h1v1h-1zM87 54h1v1h-1zM88 47h1v1h-1zM89 46h1v1h-1zM90 45h1v1h-1zM91 44h1v1h-1zM91 51h1v1h-1zM92 43h1v1h-1zM95 48h1v1h-1zM98 38h1v1h-1zM98 46h1v1h-1zM99 37h1v1h-1zM101 36h1v1h-1zM101 44h1v1h-1zM103 43h1v1h-1zM104 34h1v1h-1zM105 42h1v1h-1z"/>
<path fill="#5cc863" d="M0 48h1v1h-1zM0 56h1v1h-1zM1 48h1v1h-1zM1 56h1v1h-1zM1 60h1v1h-1zM2 48h1v1h-1zM2 56h1v1h-1zM2 60h1v1h-1zM3 48h1v1h-1zM3 56h1v1h-1zM4 48h1v1h-1zM5 53h1v1h-1zM8 56h1v1h-1zM20 57h1v1h-1zM23 54h1v1h-1zM26 55h1v1h-1zM26 60h1v1h-1zM30 57h1v1h-1zM34 68h1v1h-1zM37 70h1v1h-1zM39 71h1v1h-1zM42 66h1v1h-1zM42 72h1v1h-1zM43 72h1v1h-1zM46 72h1v1h-1zM50 71h1v1h-1zM51 62h1v1h-1zM56 69h1v1h-1zM62 62h1v1h-1zM64 63h1v1h-1zM65 64h1v1h-1zM67 64h1v1h-1zM74 60h1v1h-1zM76 63h1v1h-1zM84 51h1v1h-1zM85 50h1v1h-1zM96 47h1v1h-1zM97 39h1v1h-1zM99 45h1v1h-1zM100 37h1v1h-1zM102 43h1v1h-1zM103 35h1v1h-1zM104 42h1v1h-1zM105 34h1v1h-1z"/>
<path fill="#54c568" d="M0 49h1v1h-1zM0 55h1v1h-1zM1 49h1v1h-1zM1 55h1v1h-1zM2 49h1v1h-1zM2 55h1v1h-1zM3 49h1v1h-1zM3 55h1v1h-1zM3 60h1v1h-1zM4 49h1v1h-1zM4 55h1v2h-1zM4 60h1v1h-1zM7 58h1v1h-1zM8 58h1v1h-1zM9 57h1v1h-1zM17 54h1v1h-1zM30 62h1v1h-1zM31 58h1v1h-1zM39 65h1v1h-1zM44 72h1v1h-1zM45 72h1v1h-1zM49 65h1v1h-1zM49 71h1v1h-1zM50 63h1v2h-1zM51 70h1v1h-1zM55 69h1v1h-1zM61 62h1v1h-1zM61 69h1v1h-1zM83 52h1v1h-1zM83 57h1v1h-1zM88 53h1v1h-1zM92 50h1v1h-1zM95 41h1v1h-1zM96 40h1v1h-1zM97 46h1v1h-1zM99 38h1v1h-1zM100 44h1v1h-1zM101 37h1v1h-1zM102 36h1v1h-1zM103 42h1v1h-1zM104 35h1v1h-1zM105 41h1v1h-1z"/>
<path fill="#4cc26c" d="M5 58h1v1h-1zM6 58h1v1h-1zM7 56h1v1h-1zM8 57h1v1h-1zM21 53h1v1h-1zM22 58h1v1h-1zM31 63h1v1h-1zM32 65h1v1h-1zM33 66h1v1h-1zM35 68h1v1h-1zM36 69h1v1h-1zM37 64h1v1h-1zM40 71h1v1h-1zM47 66h1v1h-1zM48 71h1v1h-1zM51 64h1v1h-1zM52 62h1v1h-1zM54 69h1v1h-1zM62 69h1v1h-1zM63 63h1v1h-1zM66 69h1v1h-1zM72 66h1v1h-1zM73 61h1v1h-1zM77 62h1v1h-1zM82 53h1v1h-1zM93 49h1v1h-1zM94 42h1v1h-1zM98 39h1v1h-1zM98 45h1v1h-1zM99 44h1v1h-1zM100 38h1v1h-1zM101 43h1v1h-1zM102 37h1v1h-1zM103 36h1v1h-1zM104 36h1v1h-1zM104 41h1v1h-1zM105 35h1v1h-1zM105 40h1v1h-1z"/>
<path fill="#44bf70" d="M0 54h1v1h-1zM1 54h1v1h-1zM2 54h1v1h-1zM3 54h1v1h-1zM4 54h1v1h-1zM7 57h1v1h-1zM8 55h1v1h-1zM12 50h1v1h-1zM24 59h1v1h-1zM25 55h1v1h-1zM27 60h1v1h-1zM28 56h1v1h-1zM29 61h1v1h-1zM34 67h1v1h-1zM38 70h1v1h-1zM41 66h1v1h-1zM50 65h1v1h-1zM50 70h1v1h-1zM51 63h1v1h-1zM52 64h1v1h-1zM53 64h1v1h-1zM53 69h1v1h-1zM54 64h1v1h-1zM55 64h1v1h-1zM60 62h1v1h-1zM62 63h1v1h-1zM63 69h1v1h-1zM64 64h1v1h-1zM70 63h1v1h-1zM78 61h1v1h-1zM81 54h1v1h-1zM84 56h1v1h-1zM89 52h1v1h-1zM92 44h1v1h-1zM93 43h1v1h-1zM94 48h1v1h-1zM95 47h1v1h-1zM97 40h1v1h-1zM99 39h1v1h-1zM100 43h1v1h-1zM101 38h1v1h-1zM102 42h1v1h-1zM103 37h1v1h-1zM103 41h1v1h-1zM104 40h1v1h-1zM105 36h1v1h-1z"/>
<path fill="#3bbb75" d="M0 50h1v1h-1zM1 50h1v1h-1zM2 50h1v1h-1zM3 50h1v1h-1zM4 50h1v1h-1zM6 53h1v1h-1zM6 56h1v2h-1zM10 54h1v1h-1zM32 64h1v1h-1zM37 69h1v1h-1zM47 71h1v1h-1zM51 65h1v1h-1zM52 63h1v1h-1zM52 65h1v1h-1zM53 62h1v1h-1zM54 62h1v1h-1zM55 62h1v1h-1zM56 64h1v1h-1zM57 64h1v1h-1zM58 64h1v1h-1zM59 62h1v1h-1zM59 64h1v1h-1zM60 64h1v1h-1zM61 63h1v2h-1zM62 64h1v1h-1zM63 64h1v1h-1zM68 64h1v1h-1zM80 55h1v1h-1zM90 51h1v1h-1zM91 45h1v1h-1zM96 41h1v1h-1zM96 46h1v1h-1zM97 45h1v1h-1zM98 40h1v1h-1zM98 44h1v1h-1zM99 43h1v1h-1zM100 39h1v1h-1zM101 42h1v1h-1zM102 38h1v1h-1zM102 41h1v1h-1zM103 38h1v1h-1zM103 40h1v1h-1zM104 37h1v3h-1zM105 37h1v3h-1z"/>
<path fill="#35b779" d="M5 57h1v1h-1zM8 52h1v1h-1zM15 50h1v1h-1zM16 50h1v1h-1zM21 57h1v1h-1zM25 59h1v1h-1zM33 65h1v1h-1zM36 68h1v1h-1zM39 70h1v1h-1zM41 71h1v1h-1zM46 71h1v1h-1zM48 66h1v1h-1zM49 70h1v1h-1zM53 63h1v1h-1zM53 65h1v1h-1zM54 63h1v1h-1zM54 65h1v1h-1zM55 63h1v1h-1zM56 62h1v2h-1zM57 62h1v1h-1zM58 62h1v2h-1zM59 63h1v1h-1zM60 63h1v1h-1zM64 69h1v1h-1zM65 69h1v1h-1zM72 62h1v1h-1zM79 56h1v1h-1zM79 60h1v1h-1zM85 55h1v1h-1zM89 47h1v1h-1zM90 46h1v1h-1zM95 42h1v1h-1zM97 41h1v1h-1zM99 40h1v1h-1zM100 40h1v1h-1zM100 42h1v1h-1zM101 39h1v3h-1zM102 39h1v2h-1zM103 39h1v1h-1z"/>
<path fill="#2fb47c" d="M5 56h1v1h-1zM7 55h1v1h-1zM13 50h1v1h-1zM13 53h1v1h-1zM14 50h1v1h-1zM22 54h1v1h-1zM23 58h1v1h-1zM24 55h1v1h-1zM27 56h1v1h-1zM28 60h1v1h-1zM34 62h1v1h-1zM34 66h1v1h-1zM35 67h1v1h-1zM38 65h1v1h-1zM42 71h1v1h-1zM52 69h1v1h-1zM55 65h1v1h-1zM56 65h1v1h-1zM57 63h1v1h-1zM58 65h1v1h-1zM59 65h1v1h-1zM68 68h1v1h-1zM70 67h1v1h-1zM78 57h1v1h-1zM87 49h1v1h-1zM88 48h1v1h-1zM91 50h1v1h-1zM92 49h1v1h-1zM94 43h1v1h-1zM96 42h1v1h-1zM98 41h1v1h-1zM98 43h1v1h-1zM99 41h1v2h-1zM100 41h1v1h-1z"/>
<path fill="#2ab07f" d="M14 53h1v1h-1zM15 53h1v1h-1zM18 54h1v1h-1zM29 57h1v1h-1zM43 71h1v1h-1zM45 71h1v1h-1zM49 66h1v1h-1zM57 65h1v1h-1zM60 65h1v1h-1zM61 65h1v1h-1zM65 65h1v1h-1zM66 65h1v1h-1zM73 65h1v1h-1zM77 58h1v1h-1zM80 59h1v1h-1zM86 50h1v1h-1zM86 54h1v1h-1zM93 44h1v1h-1zM93 48h1v1h-1zM94 47h1v1h-1zM95 43h1v1h-1zM95 46h1v1h-1zM96 45h1v1h-1zM97 42h1v3h-1zM98 42h1v1h-1z"/>
<path fill="#25ac82" d="M0 53h1v1h-1zM1 53h1v1h-1zM2 53h1v1h-1zM3 53h1v1h-1zM4 53h1v1h-1zM10 51h1v1h-1zM12 53h1v1h-1zM16 53h1v1h-1zM19 55h1v1h-1zM26 59h1v1h-1zM33 61h1v1h-1zM35 63h1v1h-1zM40 66h1v1h-1zM44 67h1v1h-1zM44 71h1v1h-1zM45 67h1v1h-1zM48 70h1v1h-1zM50 66h1v1h-1zM51 69h1v1h-1zM62 65h1v1h-1zM69 64h1v1h-1zM76 59h1v1h-1zM85 51h1v1h-1zM87 53h1v1h-1zM92 45h1v1h-1zM96 43h1v2h-1z"/>
<path fill="#22a884" d="M5 55h1v1h-1zM6 55h1v1h-1zM20 56h1v1h-1zM26 56h1v1h-1zM30 61h1v1h-1zM31 62h1v1h-1zM38 69h1v1h-1zM40 70h1v1h-1zM51 66h1v1h-1zM58 68h1v1h-1zM63 65h1v1h-1zM64 65h1v1h-1zM75 60h1v1h-1zM81 58h1v1h-1zM84 52h1v1h-1zM88 52h1v1h-1zM91 46h1v1h-1zM94 44h1v1h-1zM95 44h1v2h-1z"/>
<path fill="#20a486" d="M7 53h1v1h-1zM9 54h1v1h-1zM22 57h1v1h-1zM30 58h1v1h-1zM32 60h1v1h-1zM36 64h1v1h-1zM43 67h1v1h-1zM46 67h1v1h-1zM52 66h1v1h-1zM53 66h1v1h-1zM55 68h1v1h-1zM56 68h1v1h-1zM57 68h1v1h-1zM71 63h1v1h-1zM83 53h1v1h-1zM89 51h1v1h-1zM90 47h1v1h-1zM93 45h1v1h-1zM94 45h1v2h-1z"/>
<path fill="#1fa188" d="M5 54h1v1h-1zM18 51h1v1h-1zM20 53h1v1h-1zM23 55h1v1h-1zM24 58h1v1h-1zM27 59h1v1h-1zM31 59h1v1h-1zM32 63h1v1h-1zM37 68h1v1h-1zM47 70h1v1h-1zM50 69h1v1h-1zM54 66h1v1h-1zM54 68h1v1h-1zM55 66h1v1h-1zM56 66h1v1h-1zM59 68h1v1h-1zM67 65h1v1h-1zM74 61h1v1h-1zM82 54h1v1h-1zM82 57h1v1h-1zM89 48h1v1h-1zM90 50h1v1h-1zM91 49h1v1h-1zM92 46h1v1h-1zM92 48h1v1h-1zM93 47h1v1h-1z"/>
<path fill="#1e9c89" d="M19 52h1v1h-1zM21 54h1v1h-1zM25 56h1v1h-1zM29 60h1v1h-1zM33 64h1v1h-1zM36 67h1v1h-1zM53 68h1v1h-1zM57 66h1v1h-1zM58 66h1v1h-1zM59 66h1v1h-1zM74 64h1v1h-1zM88 49h1v1h-1zM93 46h1v1h-1z"/>
<path fill="#1f988b" d="M0 51h1v1h-1zM1 51h1v1h-1zM2 51h1v1h-1zM3 51h1v1h-1zM4 51h1v1h-1zM6 54h1v1h-1zM7 54h1v1h-1zM8 54h1v1h-1zM21 56h1v1h-1zM25 58h1v1h-1zM28 57h1v1h-1zM37 65h1v1h-1zM39 66h1v1h-1zM39 69h1v1h-1zM41 70h1v1h-1zM42 67h1v1h-1zM47 67h1v1h-1zM81 55h1v1h-1zM83 56h1v1h-1zM87 50h1v1h-1zM91 47h1v1h-1zM92 47h1v1h-1z"/>
<path fill="#1f948c" d="M0 52h1v1h-1zM1 52h1v1h-1zM2 52h1v1h-1zM3 52h1v1h-1zM4 52h1v1h-1zM11 53h1v1h-1zM23 57h1v1h-1zM24 56h1v1h-1zM28 59h1v1h-1zM34 65h1v1h-1zM35 66h1v1h-1zM48 67h1v1h-1zM49 69h1v1h-1zM52 68h1v1h-1zM53 67h1v1h-1zM54 67h1v1h-1zM55 67h1v1h-1zM56 67h1v1h-1zM60 66h1v1h-1zM60 68h1v1h-1zM73 62h1v1h-1zM80 56h1v1h-1zM84 55h1v1h-1zM86 51h1v1h-1zM90 48h1v1h-1zM91 48h1v1h-1z"/>
<path fill="#21908d" d="M17 53h1v1h-1zM22 55h1v1h-1zM26 58h1v1h-1zM27 57h1v1h-1zM29 58h1v1h-1zM41 67h1v1h-1zM42 70h1v1h-1zM46 70h1v1h-1zM49 67h1v1h-1zM50 67h1v1h-1zM51 67h1v2h-1zM52 67h1v1h-1zM57 67h1v1h-1zM58 67h1v1h-1zM67 68h1v1h-1zM70 64h1v1h-1zM71 66h1v1h-1zM75 63h1v1h-1zM79 57h1v1h-1zM85 52h1v1h-1zM85 54h1v1h-1zM86 53h1v1h-1zM88 51h1v1h-1zM89 49h1v2h-1zM90 49h1v1h-1z"/>
<path fill="#228c8d" d="M22 56h1v1h-1zM23 56h1v1h-1zM24 57h1v1h-1zM25 57h1v1h-1zM26 57h1v1h-1zM27 58h1v1h-1zM31 61h1v1h-1zM34 63h1v1h-1zM59 67h1v1h-1zM61 66h1v1h-1zM68 65h1v1h-1zM76 62h1v1h-1zM78 58h1v1h-1zM87 52h1v1h-1zM88 50h1v1h-1z"/>
<path fill="#23888e" d="M20 55h1v1h-1zM21 55h1v1h-1zM28 58h1v1h-1zM29 59h1v1h-1zM30 59h1v2h-1zM33 62h1v1h-1zM38 66h1v1h-1zM43 70h1v1h-1zM50 68h1v1h-1zM61 68h1v1h-1zM62 66h1v1h-1zM72 63h1v1h-1zM77 59h1v1h-1zM77 61h1v1h-1zM84 53h1v1h-1zM87 51h1v1h-1z"/>
<path fill="#25848e" d="M8 53h1v1h-1zM9 52h1v1h-1zM19 54h1v1h-1zM31 60h1v1h-1zM32 61h1v2h-1zM35 64h1v1h-1zM38 68h1v1h-1zM44 70h1v1h-1zM45 70h1v1h-1zM48 69h1v1h-1zM63 66h1v1h-1zM65 66h1v1h-1zM78 60h1v1h-1zM83 54h1v1h-1zM86 52h1v1h-1z"/>
<path fill="#27808e" d="M10 53h1v1h-1zM33 63h1v1h-1zM40 69h1v1h-1zM49 68h1v1h-1zM60 67h1v1h-1zM64 66h1v1h-1zM66 66h1v1h-1zM69 67h1v1h-1zM76 60h1v1h-1zM79 59h1v1h-1zM80 58h1v1h-1zM82 55h1v1h-1zM84 54h1v1h-1zM85 53h1v1h-1z"/>
<path fill="#287c8e" d="M11 51h1v1h-1zM17 51h1v1h-1zM18 53h1v1h-1zM20 54h1v1h-1zM34 64h1v1h-1zM35 65h1v1h-1zM36 65h1v2h-1zM37 67h1v1h-1zM40 67h1v1h-1zM44 68h1v1h-1zM45 68h1v1h-1zM48 68h1v1h-1zM62 68h1v1h-1zM69 65h1v1h-1zM75 61h1v1h-1zM81 56h1v2h-1zM82 56h1v1h-1zM83 55h1v1h-1z"/>
<path fill="#2a788e" d="M37 66h1v1h-1zM46 68h1v1h-1zM47 69h1v1h-1zM71 64h1v1h-1zM72 65h1v1h-1zM80 57h1v1h-1z"/>
<path fill="#2b748e" d="M9 53h1v1h-1zM19 53h1v1h-1zM39 68h1v1h-1zM43 68h1v1h-1zM47 68h1v1h-1zM61 67h1v1h-1zM74 62h1v1h-1zM79 58h1v1h-1z"/>
<path fill="#2d708e" d="M13 52h1v1h-1zM14 52h1v1h-1zM38 67h1v1h-1zM39 67h1v1h-1zM41 69h1v1h-1zM63 68h1v1h-1zM66 68h1v1h-1zM67 66h1v1h-1zM77 60h1v1h-1zM78 59h1v1h-1z"/>
<path fill="#2f6c8e" d="M15 52h1v1h-1zM16 52h1v1h-1zM42 68h1v1h-1zM45 69h1v1h-1zM46 69h1v1h-1zM62 67h1v1h-1zM73 63h1v2h-1zM76 61h1v1h-1z"/>
<path fill="#31688e" d="M12 52h1v1h-1zM18 52h1v1h-1zM40 68h1v1h-1zM41 68h1v1h-1zM42 69h1v1h-1zM43 69h1v1h-1zM44 69h1v1h-1zM64 68h1v1h-1zM65 68h1v1h-1zM68 67h1v1h-1zM70 65h1v2h-1zM74 63h1v1h-1zM75 62h1v1h-1z"/>
<path fill="#32648e" d="M63 67h1v1h-1zM68 66h1v1h-1zM72 64h1v1h-1z"/>
<path fill="#355f8d" d="M10 52h1v1h-1zM12 51h1v1h-1zM16 51h1v1h-1zM17 52h1v1h-1zM65 67h1v1h-1zM69 66h1v1h-1zM71 65h1v1h-1z"/>
<path fill="#375b8d" d="M14 51h1v1h-1zM15 51h1v1h-1zM64 67h1v1h-1zM66 67h1v1h-1zM67 67h1v1h-1z"/>
<path fill="#39568c" d="M11 52h1v1h-1zM13 51h1v1h-1z"/>
</g>
<rect x="470" y="60" width="286" height="1.45" fill="#fde725"/>
</g>
<path d="M154.5 60V420M181.5 60V420M200.5 60V420M215.5 60V420M227.5 60V420M237.5 60V420M246.5 60V420M253.5 60V420M260.5 60V420M306.5 60V420M333.5 60V420M352.5 60V420M367.5 60V420M379.5 60V420M389.5 60V420M398.5 60V420M406.5 60V420M413.5 60V420M459.5 60V420M485.5 60V420M504.5 60V420M519.5 60V420M531.5 60V420M542.5 60V420M550.5 60V420M558.5 60V420M565.5 60V420M611.5 60V420M638.5 60V420M657.5 60V420M672.5 60V420M684.5 60V420M694.5 60V420M703.5 60V420M711.5 60V420M717.5 60V420M108 372.5H756M108 324.5H756M108 276.5H756M108 228.5H756M108 180.5H756M108 132.5H756M108 84.5H756" stroke="#b0b0b0" stroke-width="1.11" fill="none"/>
<polyline clip-path="url(#ca)" points="260.37,159.6 312.54,173.76 337.34,205.2 397.97,228 501.08,175.2 513.72,171.6 534.53,182.4 549.51,212.4 593.68,228 610.97,272.4 801.27,242.4" fill="none" stroke="#666" stroke-width="2.78" stroke-linejoin="round" stroke-linecap="square"/>
<polyline clip-path="url(#ca)" points="260.37,343.2 295.48,340.08 352.1,340.08 397.97,346.08 426.97,332.88 470.67,296.64 509.26,278.64 519.24,278.64 531.3,297.6 565.1,333.12 577.17,338.88 594.53,329.04 616.98,366 641.24,384 664.63,390 693.87,390 718.13,384 746.05,384 796.08,390" fill="none" stroke="#666" stroke-width="2.78" stroke-linejoin="round" stroke-linecap="square"/>
<path d="M108.5 420.5v4.86M260.5 420.5v4.86M413.5 420.5v4.86M565.5 420.5v4.86M717.5 420.5v4.86M108.5 420.5h-4.86M108.5 372.5h-4.86M108.5 324.5h-4.86M108.5 276.5h-4.86M108.5 228.5h-4.86M108.5 180.5h-4.86M108.5 132.5h-4.86M108.5 84.5h-4.86M815.5 420.5h4.86M815.5 360.5h4.86M815.5 300.5h4.86M815.5 240.5h4.86M815.5 180.5h4.86M815.5 120.5h4.86M815.5 60.5h4.86" stroke="#000" stroke-width="1.11" fill="none"/>
<path d="M154.5 420.5v2.78M181.5 420.5v2.78M200.5 420.5v2.78M215.5 420.5v2.78M227.5 420.5v2.78M237.5 420.5v2.78M246.5 420.5v2.78M253.5 420.5v2.78M306.5 420.5v2.78M333.5 420.5v2.78M352.5 420.5v2.78M367.5 420.5v2.78M379.5 420.5v2.78M389.5 420.5v2.78M398.5 420.5v2.78M406.5 420.5v2.78M459.5 420.5v2.78M485.5 420.5v2.78M504.5 420.5v2.78M519.5 420.5v2.78M531.5 420.5v2.78M542.5 420.5v2.78M550.5 420.5v2.78M558.5 420.5v2.78M611.5 420.5v2.78M638.5 420.5v2.78M657.5 420.5v2.78M672.5 420.5v2.78M684.5 420.5v2.78M694.5 420.5v2.78M703.5 420.5v2.78M711.5 420.5v2.78" stroke="#000" stroke-width="0.83" fill="none"/>
<rect x="108.5" y="60.5" width="648" height="360" fill="none" stroke="#000" stroke-width="1.11"/>
<rect x="797.5" y="60.5" width="18" height="360" fill="url(#cb)" stroke="#000" stroke-width="1.11"/>
<g shape-rendering="crispEdges">
<path fill="#008000" d="M164 474.5H269V484H164zM297 474.5H391V484H297zM393 474.5H514V484H393zM517 474.5H736V484H517z"/>
<path fill="#0000ff" d="M183 484H269V498.5H183zM297 484H373V498.5H297zM374 484H391V498.5H374zM393 484H514V498.5H393zM517 484H564V498.5H517zM565 484H602V498.5H565zM603 484H736V498.5H603z"/>
</g>
<rect x="135.5" y="474.5" width="630" height="24" fill="none" stroke="#000" stroke-width="1.11"/>
<path d="M145.5 498.5v4.86M221.5 498.5v4.86M297.5 498.5v4.86M374.5 498.5v4.86M450.5 498.5v4.86M488.5 498.5v4.86M565.5 498.5v4.86M641.5 498.5v4.86M717.5 498.5v4.86" stroke="#000" stroke-width="1.11" fill="none"/>
<rect x="0" y="577" width="900" height="23" fill="#808080"/>
<g font-family="'DejaVu Sans','Liberation Sans',sans-serif" font-size="13.89" fill="#000">
<text x="108.6" y="440.98" text-anchor="middle">0.01</text>
<text x="260.97" y="440.98" text-anchor="middle">0.1</text>
<text x="413.34" y="440.98" text-anchor="middle">1</text>
<text x="565.7" y="440.98" text-anchor="middle">10</text>
<text x="718.07" y="440.98" text-anchor="middle">100</text>
<text x="432.6" y="459.97" text-anchor="middle">Period [s]</text>
<text x="98.28" y="425.98" text-anchor="end">−200</text>
<text x="98.28" y="377.98" text-anchor="end">−180</text>
<text x="98.28" y="329.98" text-anchor="end">−160</text>
<text x="98.28" y="281.98" text-anchor="end">−140</text>
<text x="98.28" y="233.98" text-anchor="end">−120</text>
<text x="98.28" y="185.98" text-anchor="end">−100</text>
<text x="98.28" y="137.98" text-anchor="end">−80</text>
<text x="98.28" y="89.98" text-anchor="end">−60</text>
<text x="431.56" y="52.37" text-anchor="middle" textLength="616" lengthAdjust="spacing">HI.AGN1..HNE | 100.0Hz | 2025-11-15T00:00:03 - 2025-12-13T23:00:02 | 1261 segments</text>
<text x="825.52" y="425.98" text-anchor="start">0</text>
<text x="825.52" y="365.98" text-anchor="start">5</text>
<text x="825.52" y="305.98" text-anchor="start">10</text>
<text x="825.52" y="245.98" text-anchor="start">15</text>
<text x="825.52" y="185.98" text-anchor="start">20</text>
<text x="825.52" y="125.98" text-anchor="start">25</text>
<text x="825.52" y="65.98" text-anchor="start">30</text>
<text transform="translate(859.9,242.2) rotate(-90)" text-anchor="middle">[%]</text>
<text transform="translate(48.66,331.54) rotate(-90)" y="-1.36"><tspan x="0">Amplitude [</tspan><tspan x="81.01" font-style="oblique">m</tspan><tspan x="95.18" font-size="9.72" dy="-5.32">2</tspan><tspan x="101.75" dy="5.32">/</tspan><tspan x="106.43" font-style="oblique">s</tspan><tspan x="114.31" font-size="9.72" dy="-5.32">4</tspan><tspan x="120.87" dy="5.32">/</tspan><tspan x="125.38" font-style="oblique">H</tspan><tspan x="135.82" font-style="oblique">z</tspan><tspan x="143.11">] [dB]</tspan></text>
<text transform="translate(73.96,558.02) rotate(-30)">2025-11-13</text>
<text transform="translate(150.28,558.02) rotate(-30)">2025-11-17</text>
<text transform="translate(226.6,558.02) rotate(-30)">2025-11-21</text>
<text transform="translate(302.92,558.02) rotate(-30)">2025-11-25</text>
<text transform="translate(379.24,558.02) rotate(-30)">2025-11-29</text>
<text transform="translate(417.4,558.02) rotate(-30)">2025-12-01</text>
<text transform="translate(493.72,558.02) rotate(-30)">2025-12-05</text>
<text transform="translate(570.04,558.02) rotate(-30)">2025-12-09</text>
<text transform="translate(646.36,558.02) rotate(-30)">2025-12-13</text>
<text x="9" y="594.73" fill="#fff" textLength="534.5" lengthAdjust="spacing">Generated by SeedPSD on 2025-12-15 | Calculations updated on 2025-12-14</text>
</g>
</svg>
</body></html>
